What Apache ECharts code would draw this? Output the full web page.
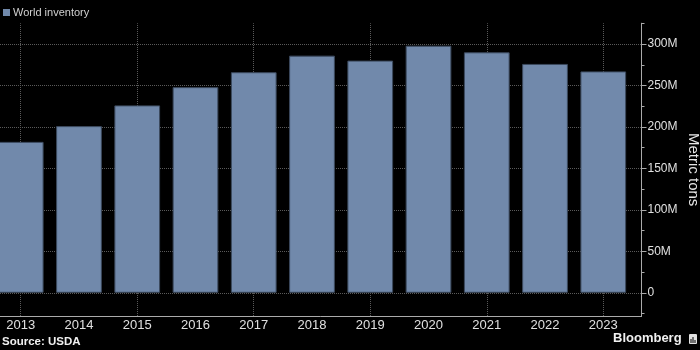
<!DOCTYPE html>
<html>
<head>
<meta charset="utf-8">
<script src="https://cdn.jsdelivr.net/npm/echarts@6/dist/echarts.min.js"></script>
<style>
html,body{margin:0;padding:0;background:#000;overflow:hidden;width:700px;height:350px;position:relative;}
#chart{position:absolute;left:-9px;top:0;width:709px;height:350px;}
</style>
</head>
<body>
<div id="chart"></div>
<script>
var years = ['2013','2014','2015','2016','2017','2018','2019','2020','2021','2022','2023'];
var inventory = [182, 201, 226, 248, 266, 286, 280, 298, 290, 276, 267];
var majorTicks = [0, 50, 100, 150, 200, 250, 300];
var minorTicks = [-25, 0, 25, 50, 75, 100, 125, 150, 175, 200, 225, 250, 275, 300, 325];
var gridYears = years.filter(function (y, i) { return i % 2 === 0; });
var seriesName = 'World inventory';
var axisName = 'Metric tons';
var sourceText = 'Source: USDA';

var FONT = "'Liberation Sans', Arial, sans-serif";
var OX = 9; // container shifted left by 9px
var yMin = -28, yMax = 325;
var gridTop = 23.3, gridBottom = 34;

var chart = echarts.init(document.getElementById('chart'), null, {renderer: 'canvas'});
chart.setOption({
  backgroundColor: '#000',
  animation: false,
  legend: {
    data: [seriesName],
    left: 3 + OX, top: 7, padding: 0,
    icon: 'rect', itemWidth: 7, itemHeight: 7,
    itemStyle: {borderWidth: 0},
    textStyle: {color: '#d0d0d0', fontSize: 11, fontFamily: FONT, padding: [0, 0, 0, -2]}
  },
  grid: [
    {left: 0.6, right: 67.6, top: gridTop, bottom: gridBottom, containLabel: false, outerBoundsMode: 'none'},
    {left: OX, right: 58.5, top: gridTop, bottom: gridBottom, containLabel: false, outerBoundsMode: 'none'}
  ],
  xAxis: [
    {
      type: 'category', gridIndex: 0, data: years, boundaryGap: true,
      axisLine: {show: false, onZero: false},
      axisTick: {show: false},
      splitLine: {show: false},
      axisLabel: {interval: 0, color: '#e0e0e0', fontSize: 13, fontFamily: FONT, margin: 3}
    },
    {
      type: 'value', gridIndex: 1, min: 0, max: 1,
      axisLine: {show: true, onZero: false, lineStyle: {color: '#aaa', width: 1}},
      axisTick: {show: false}, axisLabel: {show: false}, splitLine: {show: false}
    }
  ],
  yAxis: [
    {
      type: 'value', gridIndex: 0, min: yMin, max: yMax, show: false,
      splitLine: {show: false}
    },
    {
      type: 'value', gridIndex: 1, min: yMin, max: yMax, position: 'right',
      axisLine: {show: true, onZero: false, lineStyle: {color: '#aaa', width: 1}},
      axisTick: {show: true, length: 3, customValues: minorTicks, lineStyle: {color: '#aaa'}},
      axisLabel: {show: false},
      splitLine: {show: false},
      name: axisName, nameLocation: 'middle', nameRotate: -90, nameGap: 44,
      nameTextStyle: {color: '#e6e6e6', fontSize: 15, fontFamily: FONT}
    },
    {
      type: 'value', gridIndex: 1, min: yMin, max: yMax, position: 'right',
      axisLine: {show: true, onZero: false, lineStyle: {color: '#aaa', width: 1}},
      axisTick: {show: true, length: 5, customValues: majorTicks, lineStyle: {color: '#aaa'}},
      axisLabel: {
        customValues: majorTicks, color: '#e0e0e0', fontSize: 12, fontFamily: FONT, margin: 6,
        formatter: function (v) { return v === 0 ? '0' : v + 'M'; }
      },
      splitLine: {show: false}
    }
  ],
  series: [
    {
      type: 'line', xAxisIndex: 1, yAxisIndex: 1, data: [], z: 1, silent: true,
      markLine: {
        silent: true, symbol: 'none', z: 1, animation: false,
        label: {show: false},
        lineStyle: {color: '#5a5a5a', type: 'dotted', width: 1},
        data: majorTicks.map(function (v) { return {yAxis: v}; })
      }
    },
    {
      type: 'line', xAxisIndex: 0, yAxisIndex: 0, data: [], z: 1, silent: true,
      markLine: {
        silent: true, symbol: 'none', z: 1, animation: false,
        label: {show: false},
        lineStyle: {color: '#5a5a5a', type: 'dotted', width: 1},
        data: gridYears.map(function (y) { return {xAxis: y}; })
      }
    },
    {
      name: seriesName, type: 'bar', xAxisIndex: 0, yAxisIndex: 0, z: 2,
      data: inventory, barCategoryGap: '21.5%',
      itemStyle: {color: '#7189ab', borderColor: '#3c4a5e', borderWidth: 1}
    }
  ],
  graphic: [
    {
      type: 'text', left: 2 + OX, top: 336,
      style: {text: sourceText, fill: '#f0f0f0', font: 'bold 11.5px ' + FONT}
    },
    {
      type: 'text', left: 613 + OX, top: 332,
      style: {text: 'Bloomberg', fill: '#f0f0f0', font: 'bold 13px ' + FONT}
    },
    {
      type: 'group', left: 689 + OX, top: 334,
      children: [
        {type: 'rect', shape: {x: 0, y: 0, width: 8, height: 10, r: 1}, style: {fill: '#e0e0e0'}},
        {type: 'rect', shape: {x: 1.5, y: 5, width: 1, height: 4}, style: {fill: '#000'}},
        {type: 'rect', shape: {x: 3.5, y: 3, width: 1, height: 6}, style: {fill: '#000'}},
        {type: 'rect', shape: {x: 5.5, y: 6, width: 1, height: 3}, style: {fill: '#000'}}
      ]
    }
  ]
});
</script>
</body>
</html>
